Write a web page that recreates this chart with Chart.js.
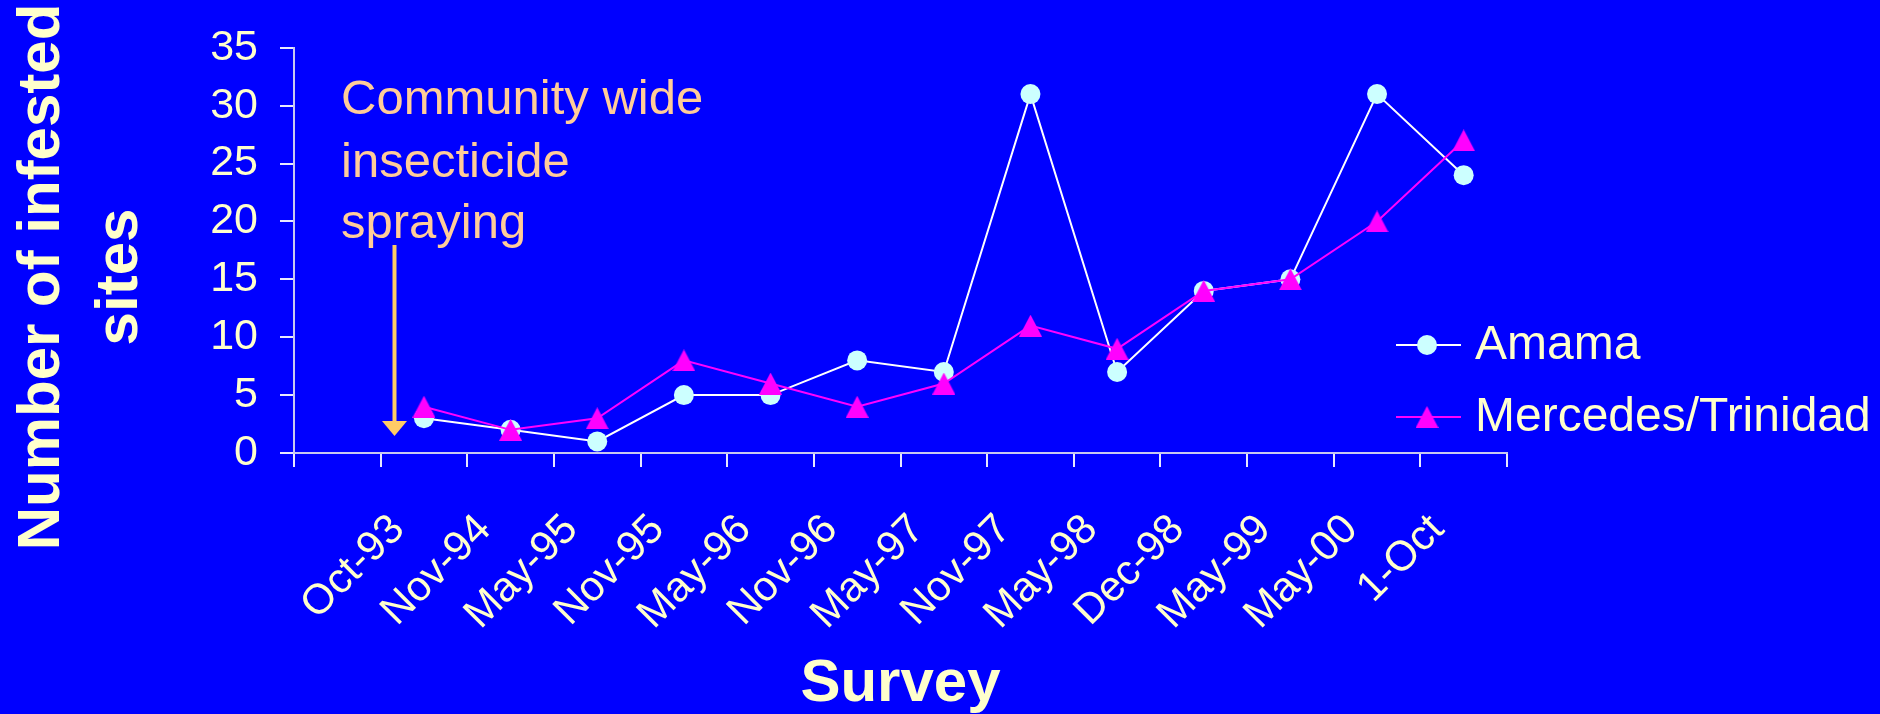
<!DOCTYPE html>
<html>
<head>
<meta charset="utf-8">
<script src="https://cdn.jsdelivr.net/npm/chart.js@4/dist/chart.umd.min.js"></script>
<style>
  html, body { margin: 0; padding: 0; background: #0000FF; overflow: hidden; }
  #wrap { width: 1880px; height: 714px; position: relative; }
</style>
</head>
<body>
<div id="wrap"><canvas id="survey-chart"></canvas></div>
<script>
// survey dates (first slot is left empty, as in the original chart)
const categories = ['', 'Oct-93', 'Nov-94', 'May-95', 'Nov-95', 'May-96', 'Nov-96',
    'May-97', 'Nov-97', 'May-98', 'Dec-98', 'May-99', 'May-00', '1-Oct'];
const amama = [null, 3, 2, 1, 5, 5, 8, 7, 31, 7, 14, 15, 31, 24];
const mercedes = [null, 4, 2, 3, 8, 6, 4, 6, 11, 9, 14, 15, 20, 27];
const yMin = 0;
const yMax = 35;
const yStep = 5;
const yTitle = ['Number of infested', 'sites'];
const xTitle = 'Survey';
const noteLines = ['Community wide', 'insecticide', 'spraying'];

const FONT = '"Liberation Sans", Arial, sans-serif';
const TEXT = '#FFFFCC';

// isosceles triangle marker, like the Excel one
function makeTriangle(color) {
    const c = document.createElement('canvas');
    c.width = 23;
    c.height = 22;
    const g = c.getContext('2d');
    g.fillStyle = color;
    g.beginPath();
    g.moveTo(11.5, 0);
    g.lineTo(23, 22);
    g.lineTo(0, 22);
    g.closePath();
    g.fill();
    return c;
}
const triangle = makeTriangle('#FF00FF');

// extra drawing: y title, the spraying note with its arrow, and the legend
const extras = {
    id: 'extras',
    afterDraw(chart) {
        const ctx = chart.ctx;
        ctx.save();

        // y axis title, two bold lines
        ctx.fillStyle = TEXT;
        ctx.font = 'bold 60px ' + FONT;
        ctx.textAlign = 'center';
        ctx.textBaseline = 'alphabetic';
        [59, 137].forEach((bx, i) => {
            ctx.save();
            ctx.translate(bx, 277);
            ctx.rotate(-Math.PI / 2);
            ctx.fillText(yTitle[i], 0, 0);
            ctx.restore();
        });

        // note text
        ctx.fillStyle = '#FFCC99';
        ctx.font = '49px ' + FONT;
        ctx.textAlign = 'left';
        [114, 177, 238].forEach((by, i) => ctx.fillText(noteLines[i], 341, by));

        // arrow
        const ax = 394.5;
        ctx.strokeStyle = '#FFCC66';
        ctx.fillStyle = '#FFCC66';
        ctx.lineWidth = 4;
        ctx.beginPath();
        ctx.moveTo(ax, 245);
        ctx.lineTo(ax, 424);
        ctx.stroke();
        ctx.beginPath();
        ctx.moveTo(ax - 12.5, 421);
        ctx.lineTo(ax + 12.5, 421);
        ctx.lineTo(ax, 436);
        ctx.closePath();
        ctx.fill();

        // legend
        const items = chart.data.datasets;
        [345, 417].forEach((ly, i) => {
            const ds = items[i];
            ctx.strokeStyle = ds.borderColor;
            ctx.lineWidth = 2;
            ctx.beginPath();
            ctx.moveTo(1396, ly);
            ctx.lineTo(1461, ly);
            ctx.stroke();
            if (ds.pointStyle === triangle) {
                ctx.drawImage(triangle, 1427 - 11.5, ly - 11);
            } else {
                ctx.fillStyle = ds.pointBackgroundColor;
                ctx.beginPath();
                ctx.arc(1427, ly, 10, 0, Math.PI * 2);
                ctx.fill();
            }
            ctx.fillStyle = TEXT;
            ctx.font = '48px ' + FONT;
            ctx.textAlign = 'left';
            ctx.textBaseline = 'middle';
            ctx.fillText(ds.label, 1475, ly + 1);
        });
        ctx.restore();
    }
};

new Chart(document.getElementById('survey-chart'), {
    type: 'line',
    data: {
        labels: categories,
        datasets: [
            {
                label: 'Amama',
                data: amama,
                borderColor: '#FFFFFF',
                borderWidth: 2,
                pointStyle: 'circle',
                pointRadius: 10,
                pointBackgroundColor: '#CCFFFF',
                pointBorderColor: '#CCFFFF',
                pointBorderWidth: 0,
                tension: 0,
                order: 1
            },
            {
                label: 'Mercedes/Trinidad',
                data: mercedes,
                borderColor: '#FF00FF',
                borderWidth: 2,
                pointStyle: triangle,
                pointRadius: 11,
                pointBackgroundColor: '#FF00FF',
                pointBorderColor: '#FF00FF',
                pointBorderWidth: 0,
                tension: 0,
                order: 0
            }
        ]
    },
    options: {
        responsive: true,
        maintainAspectRatio: false,
        animation: false,
        events: [],
        layout: { padding: { top: 37, right: 373, left: 0, bottom: 0 } },
        plugins: {
            legend: { display: false },
            tooltip: { enabled: false }
        },
        scales: {
            x: {
                type: 'category',
                offset: true,
                afterFit(scale) { scale.height = 261; },
                grid: {
                    offset: true,
                    drawOnChartArea: false,
                    drawTicks: true,
                    tickLength: 14,
                    color: '#E8E8FF',
                    lineWidth: 2
                },
                border: { color: '#C8C8F0', width: 2 },
                ticks: {
                    autoSkip: false,
                    minRotation: 45,
                    maxRotation: 45,
                    padding: 38,
                    labelOffset: -26,
                    color: TEXT,
                    font: { family: FONT, size: 42 }
                },
                title: {
                    display: true,
                    text: xTitle,
                    color: TEXT,
                    font: { family: FONT, size: 60, weight: 'bold', lineHeight: 1 },
                    padding: { top: 0, bottom: 0 }
                }
            },
            y: {
                min: yMin,
                max: yMax,
                afterFit(scale) { scale.width = 294; },
                grid: {
                    drawOnChartArea: false,
                    drawTicks: true,
                    tickLength: 14,
                    color: '#E8E8FF',
                    lineWidth: 2
                },
                border: { color: '#C8C8F0', width: 2 },
                ticks: {
                    stepSize: yStep,
                    padding: 22,
                    color: TEXT,
                    font: { family: FONT, size: 43 }
                }
            }
        }
    },
    plugins: [extras]
});
</script>
</body>
</html>
